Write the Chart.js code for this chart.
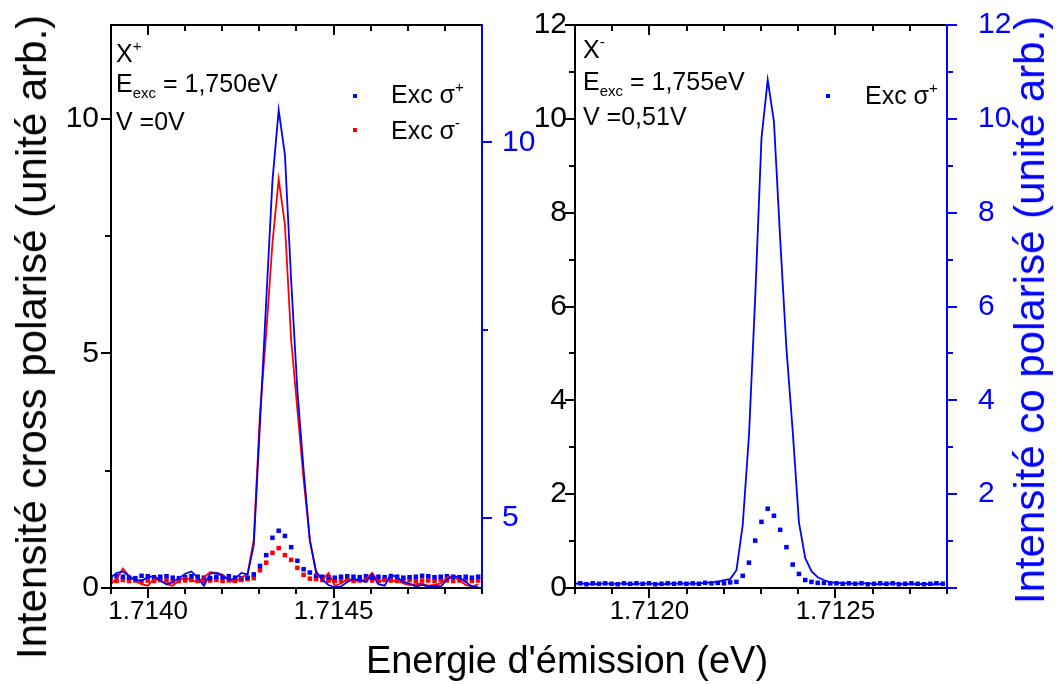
<!DOCTYPE html>
<html>
<head>
<meta charset="utf-8">
<script src="https://cdn.jsdelivr.net/npm/chart.js@4.4.1/dist/chart.umd.min.js"></script>
<style>
  body { margin: 0; background: #fff; width: 1058px; height: 684px; overflow: hidden; position: relative;
         font-family: 'Liberation Sans', Arial, Helvetica, sans-serif; }
  canvas { position: absolute; top: 0; }
  .t { position: absolute; font-size: 25px; line-height: 25px; white-space: nowrap; color: #000; }
  .t sub { font-size: 15px; position: relative; top: 6px; vertical-align: baseline; }
  .t sup { font-size: 15px; position: relative; top: -11px; vertical-align: baseline; }
  .mk { position: absolute; width: 4px; height: 4px; }
  .title { position: absolute; font-size: 38px; line-height: 38px; white-space: nowrap; }
  .rot { font-size: 42px; line-height: 42px; transform: translate(-50%, -50%) rotate(-90deg); }
</style>
</head>
<body>
<canvas id="left-chart" width="560" height="684" style="left:0"></canvas>
<canvas id="right-chart" width="568" height="684" style="left:490px"></canvas>

<!-- annotations, left panel -->
<div class="t" style="left:116px;top:41px">X<sup>+</sup></div>
<div class="t" style="left:116px;top:71px">E<sub>exc</sub> = 1,750eV</div>
<div class="t" style="left:116px;top:109px">V =0V</div>
<div class="mk" style="left:353px;top:94px;background:#00f"></div>
<div class="t" style="left:391px;top:82px">Exc σ<sup>+</sup></div>
<div class="mk" style="left:353px;top:128px;background:#f00"></div>
<div class="t" style="left:391px;top:118px">Exc σ<sup>-</sup></div>

<!-- annotations, right panel -->
<div class="t" style="left:583px;top:37px">X<sup>-</sup></div>
<div class="t" style="left:583px;top:69px">E<sub>exc</sub> = 1,755eV</div>
<div class="t" style="left:583px;top:104px">V =0,51V</div>
<div class="mk" style="left:826px;top:94px;background:#00f"></div>
<div class="t" style="left:865px;top:83px">Exc σ<sup>+</sup></div>

<!-- axis titles -->
<div class="title rot" style="left:32px;top:337px">Intensité cross polarisé (unité arb.)</div>
<div class="title rot" style="left:1030px;top:310px;color:#00f">Intensité co polarisé (unité arb.)</div>
<div class="title" style="left:567px;top:641px;transform:translateX(-50%)">Energie d'émission (eV)</div>

<script>
// ---- left panel (X+) ----
const leftEnergy = [
    1.7138984, 1.7139152, 1.7139320, 1.7139488, 1.7139656, 1.7139824, 1.7139992, 1.7140160,
    1.7140328, 1.7140496, 1.7140664, 1.7140832, 1.7141000, 1.7141168, 1.7141336, 1.7141504,
    1.7141672, 1.7141840, 1.7142008, 1.7142176, 1.7142344, 1.7142512, 1.7142680, 1.7142848,
    1.7143016, 1.7143184, 1.7143352, 1.7143520, 1.7143688, 1.7143856, 1.7144024, 1.7144192,
    1.7144360, 1.7144528, 1.7144696, 1.7144864, 1.7145032, 1.7145200, 1.7145368, 1.7145536,
    1.7145704, 1.7145872, 1.7146040, 1.7146208, 1.7146376, 1.7146544, 1.7146712, 1.7146880,
    1.7147048, 1.7147216, 1.7147384, 1.7147552, 1.7147720, 1.7147888, 1.7148056, 1.7148224,
    1.7148392, 1.7148560, 1.7148728, 1.7148896
];
// cross polarised (left axis), squares
const leftCrossPlus = [
    0.22, 0.25, 0.24, 0.22, 0.21, 0.26, 0.25, 0.23, 0.24, 0.25, 0.22, 0.21, 0.23, 0.25, 0.24, 0.22,
    0.21, 0.24, 0.23, 0.25, 0.22, 0.21,
    0.22, 0.29, 0.47, 0.70, 1.07, 1.22, 1.11, 0.87, 0.58, 0.40, 0.33, 0.26,
    0.24, 0.23, 0.22, 0.24, 0.25, 0.24, 0.23, 0.25, 0.22, 0.24, 0.23, 0.25, 0.24, 0.22, 0.23, 0.24,
    0.26, 0.25, 0.23, 0.24, 0.25, 0.24, 0.23, 0.24, 0.22, 0.24
];
const leftCrossMinus = [
    0.16, 0.15, 0.17, 0.15, 0.16, 0.14, 0.16, 0.15, 0.17, 0.16, 0.14, 0.15, 0.16, 0.17, 0.15, 0.14,
    0.16, 0.17, 0.15, 0.16, 0.15, 0.17,
    0.19, 0.21, 0.38, 0.54, 0.75, 0.85, 0.70, 0.60, 0.43, 0.28, 0.20, 0.19,
    0.17, 0.16, 0.15, 0.16, 0.17, 0.15, 0.16, 0.17, 0.16, 0.15, 0.17, 0.16, 0.15, 0.16, 0.17, 0.15,
    0.16, 0.16, 0.15, 0.17, 0.16, 0.15, 0.16, 0.17, 0.15, 0.16
];
// co polarised (right axis), lines
const leftCoPlus = [
    4.21, 4.27, 4.29, 4.23, 4.17, 4.17, 4.21, 4.23, 4.17, 4.12, 4.15, 4.20, 4.26, 4.29, 4.21, 4.10,
    4.26, 4.27, 4.23, 4.18, 4.19, 4.27,
    4.25, 4.64, 6.26, 7.89, 9.49, 10.43, 9.83, 8.16, 6.70, 5.64, 4.70, 4.29, 4.18, 4.11, 4.08,
    4.09, 4.15, 4.19, 4.17, 4.15, 4.25, 4.12, 4.10, 4.25, 4.21, 4.15, 4.13, 4.09, 4.11, 4.09, 4.10,
    4.09, 4.18, 4.23, 4.21, 4.15, 4.09, 4.08
];
const leftCoMinus = [
    4.12, 4.19, 4.33, 4.23, 4.16, 4.12, 4.10, 4.19, 4.17, 4.12, 4.10, 4.17, 4.21, 4.17, 4.15, 4.21,
    4.28, 4.27, 4.25, 4.17, 4.15, 4.21,
    4.25, 4.71, 6.40, 7.46, 8.66, 9.51, 8.90, 7.37, 6.44, 5.51, 4.71, 4.27, 4.18, 4.27, 4.10,
    4.13, 4.19, 4.17, 4.16, 4.19, 4.27, 4.15, 4.19, 4.16, 4.17, 4.13, 4.11, 4.12, 4.13, 4.10, 4.11,
    4.13, 4.21, 4.23, 4.17, 4.11, 4.09, 4.12
];
const leftXRange = [1.7139, 1.7149];
const leftXTicks = [1.7140, 1.7145];
const leftXMinor = [1.7139, 1.7141, 1.7142, 1.7143, 1.7144, 1.7146, 1.7147, 1.7148, 1.7149];
const leftYRange = [0, 12];
const leftYTicks = [0, 5, 10];
const leftYMinor = [2.5, 7.5];
const leftY2Range = [4.07, 11.56];
const leftY2Ticks = [5, 10];
const leftY2Minor = [7.5];

// ---- right panel (X-) ----
const rightEnergy = [
    1.7117972, 1.7118140, 1.7118308, 1.7118476, 1.7118644, 1.7118812, 1.7118980, 1.7119148,
    1.7119316, 1.7119484, 1.7119652, 1.7119820, 1.7119988, 1.7120156, 1.7120324, 1.7120492,
    1.7120660, 1.7120828, 1.7120996, 1.7121164, 1.7121332, 1.7121500, 1.7121668, 1.7121836,
    1.7122004, 1.7122172, 1.7122340, 1.7122508, 1.7122676, 1.7122844, 1.7123012, 1.7123180,
    1.7123348, 1.7123516, 1.7123684, 1.7123852, 1.7124020, 1.7124188, 1.7124356, 1.7124524,
    1.7124692, 1.7124860, 1.7125028, 1.7125196, 1.7125364, 1.7125532, 1.7125700, 1.7125868,
    1.7126036, 1.7126204, 1.7126372, 1.7126540, 1.7126708, 1.7126876, 1.7127044, 1.7127212,
    1.7127380, 1.7127548, 1.7127716, 1.7127884
];
const rightCrossPlus = [
    0.09, 0.10, 0.08, 0.10, 0.09, 0.10, 0.09, 0.08, 0.10, 0.09, 0.10, 0.09, 0.10, 0.08, 0.09, 0.10,
    0.09, 0.10, 0.09, 0.10, 0.09, 0.11, 0.10, 0.11, 0.10,
    0.12, 0.13, 0.26, 0.54, 1.01, 1.41, 1.69, 1.54, 1.24, 0.87, 0.50, 0.30, 0.17, 0.13, 0.11,
    0.11, 0.10, 0.10, 0.09, 0.10, 0.09, 0.10, 0.08, 0.09, 0.10, 0.09, 0.10, 0.08, 0.09, 0.10, 0.09,
    0.08, 0.09, 0.10, 0.09
];
const rightCoPlus = [
    0.09, 0.10, 0.09, 0.08, 0.09, 0.10, 0.09, 0.09, 0.10, 0.08, 0.09, 0.10, 0.09, 0.09, 0.08, 0.09,
    0.10, 0.09, 0.10, 0.09, 0.10, 0.11, 0.12,
    0.13, 0.17, 0.19, 0.38, 1.34, 3.24, 6.19, 9.58, 10.83, 9.94, 7.43, 5.10, 3.35, 1.40, 0.64, 0.36,
    0.23, 0.17,
    0.12, 0.11, 0.10, 0.10, 0.09, 0.10, 0.10, 0.09, 0.08, 0.09, 0.10, 0.09, 0.08, 0.09, 0.08, 0.09,
    0.08, 0.08, 0.09
];
const rightXRange = [1.7118, 1.7128];
const rightXTicks = [1.7120, 1.7125];
const rightXMinor = [1.7118, 1.7119, 1.7121, 1.7122, 1.7123, 1.7124, 1.7126, 1.7127, 1.7128];
const rightYRange = [0, 12];
const rightYTicks = [0, 2, 4, 6, 8, 10, 12];
const rightYMinor = [1, 3, 5, 7, 9, 11];
const rightY2Range = [0, 12];
const rightY2Ticks = [0, 2, 4, 6, 8, 10, 12];
const rightY2Minor = [1, 3, 5, 7, 9, 11];

const BLUE = '#0000ff';
const RED = '#ff0000';

Chart.defaults.font.family = "'Liberation Sans', Arial, Helvetica, sans-serif";
Chart.defaults.color = '#000';

function points(xs, ys) {
    return xs.map((x, i) => ({ x: x, y: ys[i] }));
}

// Draws the Origin-style frame: black box, blue right axis, ticks in and out
const axisFrame = {
    id: 'axisFrame',
    afterDraw(chart, args, o) {
        const ctx = chart.ctx;
        const a = chart.chartArea;
        const sx = chart.scales.x, sy = chart.scales.y, sy2 = chart.scales.y2;
        ctx.save();
        ctx.lineWidth = 2;
        ctx.lineCap = 'square';

        ctx.strokeStyle = '#000';
        ctx.beginPath();
        ctx.moveTo(a.left, a.bottom); ctx.lineTo(a.right, a.bottom);
        ctx.moveTo(a.left, a.top); ctx.lineTo(a.right, a.top);
        ctx.moveTo(a.left, a.top); ctx.lineTo(a.left, a.bottom);
        const xMarks = o.xMajor.map(v => [v, 9]).concat(o.xMinor.map(v => [v, 5]));
        xMarks.forEach(([v, len]) => {
            const px = Math.round(sx.getPixelForValue(v));
            ctx.moveTo(px, a.bottom); ctx.lineTo(px, a.bottom + len);
            ctx.moveTo(px, a.top); ctx.lineTo(px, a.top + len);
        });
        const yMarks = o.yMajor.map(v => [v, 9]).concat(o.yMinor.map(v => [v, 5]));
        yMarks.forEach(([v, len]) => {
            const py = Math.round(sy.getPixelForValue(v));
            ctx.moveTo(a.left, py); ctx.lineTo(a.left - len, py);
        });
        ctx.stroke();

        ctx.strokeStyle = BLUE;
        ctx.beginPath();
        ctx.moveTo(a.right, a.top); ctx.lineTo(a.right, a.bottom);
        const y2Marks = o.y2Major.map(v => [v, 9]).concat(o.y2Minor.map(v => [v, 5]));
        y2Marks.forEach(([v, len]) => {
            const py = Math.round(sy2.getPixelForValue(v));
            ctx.moveTo(a.right, py); ctx.lineTo(a.right + len, py);
        });
        ctx.stroke();
        ctx.restore();
    }
};

function panel(canvasId, p) {
    const ctx = document.getElementById(canvasId).getContext('2d');
    const xFont = { size: 26 };
    const yFont = { size: 30 };
    return new Chart(ctx, {
        type: 'scatter',
        data: { datasets: p.datasets },
        options: {
            responsive: false,
            animation: false,
            devicePixelRatio: 1,
            layout: { padding: { top: 25, left: 0, right: 0, bottom: 0 } },
            plugins: {
                legend: { display: false },
                tooltip: { enabled: false },
                axisFrame: {
                    xMajor: p.xTicks, xMinor: p.xMinor,
                    yMajor: p.yTicks, yMinor: p.yMinor,
                    y2Major: p.y2Ticks, y2Minor: p.y2Minor
                }
            },
            scales: {
                x: {
                    type: 'linear', position: 'bottom',
                    min: p.xRange[0], max: p.xRange[1],
                    grid: { display: false, drawTicks: false },
                    border: { display: false },
                    afterBuildTicks: s => { s.ticks = p.xTicks.map(v => ({ value: v })); },
                    afterFit: s => { s.height = 684 - 588; s.paddingLeft = 0; s.paddingRight = 0; },
                    ticks: {
                        font: xFont, color: '#000', padding: 8, maxRotation: 0, autoSkip: false,
                        callback: v => v.toFixed(4)
                    }
                },
                y: {
                    type: 'linear', position: 'left',
                    min: p.yRange[0], max: p.yRange[1],
                    grid: { display: false, drawTicks: false },
                    border: { display: false },
                    afterBuildTicks: s => { s.ticks = p.yTicks.map(v => ({ value: v })); },
                    afterFit: s => { s.width = p.yWidth; s.paddingTop = 0; s.paddingBottom = 0; },
                    ticks: { font: yFont, color: '#000', padding: p.yPad, callback: v => String(v) }
                },
                y2: {
                    type: 'linear', position: 'right',
                    min: p.y2Range[0], max: p.y2Range[1],
                    grid: { display: false, drawTicks: false },
                    border: { display: false },
                    afterBuildTicks: s => { s.ticks = p.y2Ticks.map(v => ({ value: v })); },
                    afterFit: s => { s.width = p.y2Width; s.paddingTop = 0; s.paddingBottom = 0; },
                    ticks: { font: yFont, color: BLUE, padding: p.y2Pad, callback: v => (v === 0 ? '' : String(v)) }
                }
            }
        },
        plugins: [axisFrame]
    });
}

function squares(xs, ys, color) {
    return {
        data: points(xs, ys), yAxisID: 'y', showLine: false,
        pointStyle: 'rect', pointRadius: 3.2, pointBorderWidth: 0,
        backgroundColor: color, borderColor: color
    };
}

function curve(xs, ys, color) {
    return {
        data: points(xs, ys), yAxisID: 'y2', showLine: true,
        borderColor: color, borderWidth: 1.8, pointRadius: 0, tension: 0
    };
}

panel('left-chart', {
    datasets: [
        curve(leftEnergy, leftCoPlus, BLUE),
        curve(leftEnergy, leftCoMinus, RED),
        squares(leftEnergy, leftCrossPlus, BLUE),
        squares(leftEnergy, leftCrossMinus, RED)
    ],
    xRange: leftXRange, xTicks: leftXTicks, xMinor: leftXMinor,
    yRange: leftYRange, yTicks: leftYTicks, yMinor: leftYMinor,
    y2Range: leftY2Range, y2Ticks: leftY2Ticks, y2Minor: leftY2Minor,
    yWidth: 111, yPad: 12, y2Width: 560 - 482, y2Pad: 20
});

panel('right-chart', {
    datasets: [
        curve(rightEnergy, rightCoPlus, BLUE),
        squares(rightEnergy, rightCrossPlus, BLUE)
    ],
    xRange: rightXRange, xTicks: rightXTicks, xMinor: rightXMinor,
    yRange: rightYRange, yTicks: rightYTicks, yMinor: rightYMinor,
    y2Range: rightY2Range, y2Ticks: rightY2Ticks, y2Minor: rightY2Minor,
    yWidth: 575 - 490, yPad: 8, y2Width: 1058 - 947, y2Pad: 31
});
</script>
</body>
</html>
